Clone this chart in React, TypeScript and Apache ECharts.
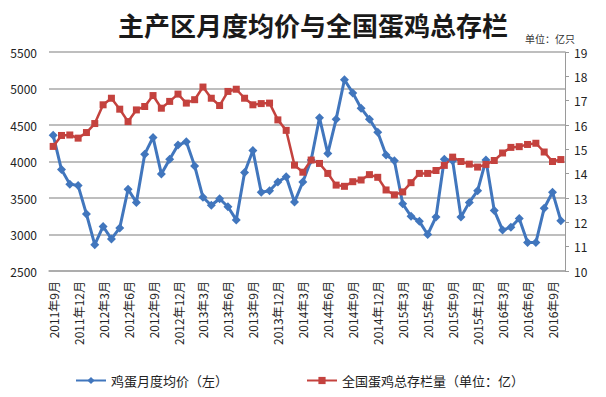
import React, { useEffect, useRef } from "react";
import * as echarts from "echarts";

const categories: string[] = [
  "2011年9月", "2011年10月", "2011年11月", "2011年12月",
  "2012年1月", "2012年2月", "2012年3月", "2012年4月", "2012年5月", "2012年6月",
  "2012年7月", "2012年8月", "2012年9月", "2012年10月", "2012年11月", "2012年12月",
  "2013年1月", "2013年2月", "2013年3月", "2013年4月", "2013年5月", "2013年6月",
  "2013年7月", "2013年8月", "2013年9月", "2013年10月", "2013年11月", "2013年12月",
  "2014年1月", "2014年2月", "2014年3月", "2014年4月", "2014年5月", "2014年6月",
  "2014年7月", "2014年8月", "2014年9月", "2014年10月", "2014年11月", "2014年12月",
  "2015年1月", "2015年2月", "2015年3月", "2015年4月", "2015年5月", "2015年6月",
  "2015年7月", "2015年8月", "2015年9月", "2015年10月", "2015年11月", "2015年12月",
  "2016年1月", "2016年2月", "2016年3月", "2016年4月", "2016年5月", "2016年6月",
  "2016年7月", "2016年8月", "2016年9月", "2016年10月",
];

const priceName = "鸡蛋月度均价（左）";
const stockName = "全国蛋鸡总存栏量（单位：亿）";

const eggPrice: number[] = [
  4360, 3890, 3690, 3670, 3280, 2860, 3110, 2940, 3090, 3620,
  3440, 4100, 4330, 3830, 4030, 4225, 4270, 3940, 3510, 3400,
  3490, 3380, 3200, 3850, 4150, 3580, 3600, 3720, 3790, 3445,
  3720, 4020, 4600, 4110, 4580, 5120, 4940, 4730, 4580, 4400,
  4090, 4010, 3420, 3250, 3180, 3000, 3240, 4030, 4010, 3240,
  3440, 3600, 4020, 3330, 3060, 3100, 3220, 2890, 2890, 3360,
  3580, 3190,
];

const layerStock: number[] = [
  15.12, 15.57, 15.59, 15.46, 15.69, 16.06, 16.83, 17.1, 16.65, 16.14,
  16.62, 16.76, 17.21, 16.69, 16.97, 17.27, 16.9, 17.04, 17.56, 17.1,
  16.8, 17.38, 17.47, 17.1, 16.83, 16.88, 16.9, 16.21, 15.78, 14.35,
  14.06, 14.56, 14.42, 14.01, 13.53, 13.48, 13.67, 13.74, 13.96, 13.85,
  13.33, 13.13, 13.25, 13.63, 14.01, 14.01, 14.13, 14.34, 14.68, 14.5,
  14.39, 14.27, 14.38, 14.54, 14.85, 15.08, 15.11, 15.2, 15.25, 14.89,
  14.5, 14.58,
];

const leftTicks = { min: 2500, max: 5500, interval: 500 };
const rightTicks = { min: 10, max: 19, interval: 1 };

const FONT = "'Noto Sans CJK SC', 'Noto Sans', sans-serif";

export default function App() {
  const ref = useRef<HTMLDivElement>(null);
  useEffect(() => {
    if (!ref.current) return;
    const chart = echarts.init(ref.current, undefined, { renderer: "svg" });
    chart.setOption({
      animation: false,
      backgroundColor: "#ffffff",
      textStyle: { fontFamily: FONT },
      title: {
        text: "主产区月度均价与全国蛋鸡总存栏",
        left: 113,
        top: 6,
        textStyle: { fontFamily: FONT, fontSize: 26, fontWeight: "bold", color: "#1a1a1a" },
      },
      graphic: [
        {
          type: "text",
          left: 525,
          top: 33,
          style: { text: "单位：亿只", fontFamily: FONT, fontSize: 10, fill: "#333" },
        },
      ],
      legend: {
        left: 70,
        top: 369,
        itemGap: 78,
        itemWidth: 30,
        itemHeight: 9,
        textStyle: { fontFamily: FONT, fontSize: 13, color: "#222" },
        data: [priceName, stockName],
      },
      grid: { left: 49, right: 41, top: 52, bottom: 126, containLabel: false },
      xAxis: {
        type: "category",
        data: categories,
        boundaryGap: true,
        axisLine: { show: true, lineStyle: { color: "#a8a8a8", width: 1.5 } },
        axisTick: { show: false },
        axisLabel: {
          interval: 2,
          rotate: 90,
          margin: 10,
          fontSize: 12,
          color: "#222",
          fontFamily: FONT,
        },
      },
      yAxis: [
        {
          type: "value",
          position: "left",
          min: leftTicks.min,
          max: leftTicks.max,
          interval: leftTicks.interval,
          axisLine: { show: false },
          axisTick: { show: false },
          axisLabel: {
            fontSize: 12,
            color: "#222",
            margin: 12,
            fontFamily: FONT,
            formatter: (v: number) => String(v),
          },
          splitLine: { show: true, lineStyle: { color: "#a8a8a8", width: 1.5 } },
        },
        {
          type: "value",
          position: "right",
          min: rightTicks.min,
          max: rightTicks.max,
          interval: rightTicks.interval,
          axisLine: { show: true, lineStyle: { color: "#9a9a9a", width: 1 } },
          axisTick: { show: true, length: 4, lineStyle: { color: "#9a9a9a" } },
          axisLabel: { fontSize: 12, color: "#222", margin: 9, fontFamily: FONT },
          splitLine: { show: false },
        },
      ],
      series: [
        {
          name: priceName,
          type: "line",
          yAxisIndex: 0,
          data: eggPrice,
          symbol: "diamond",
          symbolSize: 9,
          showSymbol: true,
          showAllSymbol: true,
          itemStyle: { color: "#4176bd" },
          lineStyle: { color: "#4176bd", width: 3 },
        },
        {
          name: stockName,
          type: "line",
          yAxisIndex: 1,
          data: layerStock,
          symbol: "rect",
          symbolSize: 7,
          showSymbol: true,
          showAllSymbol: true,
          itemStyle: { color: "#c4423e" },
          lineStyle: { color: "#c4423e", width: 2.5 },
        },
      ],
    });
    return () => chart.dispose();
  }, []);
  return (
    <div
      ref={ref}
      style={{ position: "fixed", left: 0, top: 0, width: 606, height: 397 }}
    />
  );
}
